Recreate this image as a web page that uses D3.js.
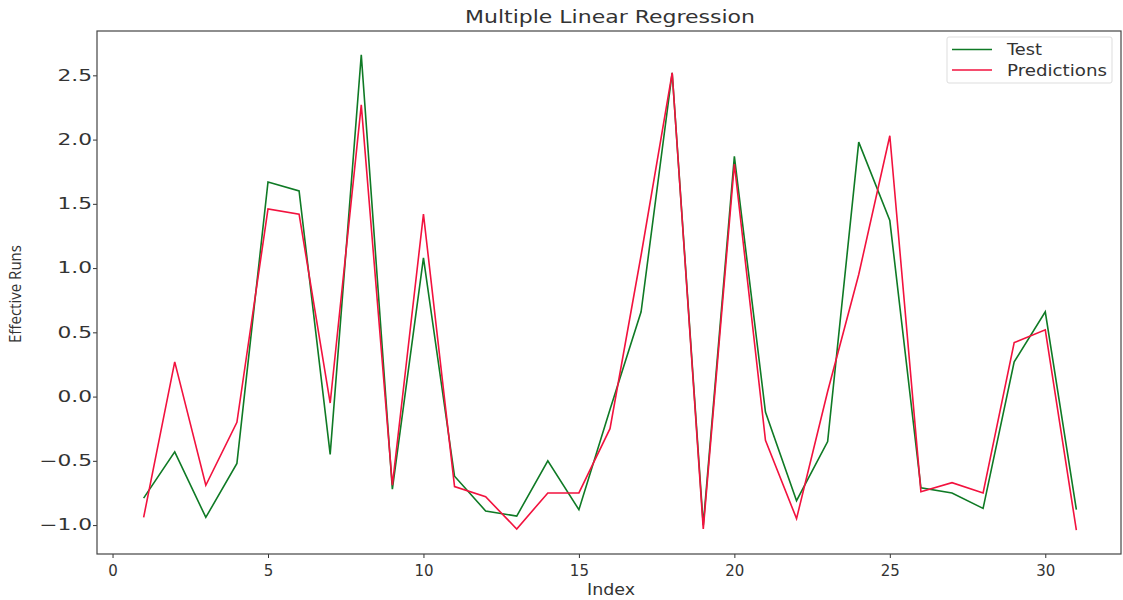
<!DOCTYPE html>
<html>
<head>
<meta charset="utf-8">
<script src="https://cdn.jsdelivr.net/npm/d3@7"></script>
<style>
  html, body { margin: 0; padding: 0; background: #fff; }
  svg { display: block; }
  text { font-family: "DejaVu Sans", sans-serif; fill: #333; }
</style>
</head>
<body>
<svg id="chart" width="1123" height="600"></svg>
<script>
const indices = d3.range(1, 32);
const testValues = [-0.79, -0.43, -0.94, -0.52, 1.67, 1.60, -0.45, 2.66, -0.72, 1.08,
  -0.62, -0.89, -0.93, -0.50, -0.88, -0.10, 0.66, 2.52, -1.00, 1.87,
  -0.12, -0.81, -0.35, 1.98, 1.37, -0.71, -0.75, -0.87, 0.27, 0.66, -0.88];
const predValues = [-0.94, 0.27, -0.69, -0.20, 1.46, 1.42, -0.05, 2.27, -0.69, 1.42,
  -0.70, -0.78, -1.03, -0.75, -0.75, -0.25, 1.10, 2.52, -1.03, 1.81,
  -0.34, -0.95, 0.04, 0.95, 2.03, -0.74, -0.67, -0.75, 0.42, 0.52, -1.04];
const xTicks = [0, 5, 10, 15, 20, 25, 30];
const yTicks = [-1.0, -0.5, 0.0, 0.5, 1.0, 1.5, 2.0, 2.5];
const seriesNames = ["Test", "Predictions"];
const seriesColors = ["#0f7a25", "#f2123e"];

(function () {
const svg = d3.select("#chart");
const mLeft = 97, mRight = 1121, mTop = 31, mBottom = 554;

const x = d3.scaleLinear().domain([-0.5, 32.5]).range([mLeft, mRight + 2]);
const y = d3.scaleLinear().domain([-1.225, 2.845]).range([mBottom, mTop]);

const xAxis = d3.axisBottom(x).tickValues(xTicks).tickFormat(d3.format("d")).tickSizeOuter(0).tickSize(4).tickPadding(7);
const yAxis = d3.axisLeft(y).tickValues(yTicks).tickFormat(d => d3.format(".1f")(d).replace("-", "\u2212")).tickSizeOuter(0).tickSize(4).tickPadding(1);

const gx = svg.append("g").attr("transform", `translate(0,${mBottom})`).call(xAxis);
const gy = svg.append("g").attr("transform", `translate(${mLeft},0)`).call(yAxis);
[gx, gy].forEach(g => {
  g.select(".domain").remove();
  g.selectAll(".tick line").attr("stroke", "#333").attr("stroke-width", 1);
  g.selectAll(".tick text").attr("fill", "#333").style("font-size", "15px").style("font-family", "DejaVu Sans");
});
const ys = 1.45;
gy.selectAll(".tick text").attr("x", -5 / ys).attr("transform", `scale(${ys},1)`);

svg.append("rect").attr("x", mLeft).attr("y", mTop).attr("width", mRight - mLeft).attr("height", mBottom - mTop)
  .attr("fill", "none").attr("stroke", "#444").attr("stroke-width", 1.2);

const series = [testValues, predValues];
const line = d3.line().x((d, i) => x(indices[i])).y(d => y(d));
series.forEach((vals, k) => {
  svg.append("path").datum(vals).attr("d", line).attr("fill", "none")
    .attr("stroke", seriesColors[k]).attr("stroke-width", 1.6).attr("stroke-linejoin", "miter");
});

svg.append("text").attr("x", 465).attr("y", 23).attr("textLength", 290).attr("lengthAdjust", "spacingAndGlyphs")
  .style("font-size", "17px").text("Multiple Linear Regression");
svg.append("text").attr("x", 587).attr("y", 595).attr("textLength", 48).attr("lengthAdjust", "spacingAndGlyphs")
  .style("font-size", "15px").text("Index");
svg.append("text").attr("transform", `translate(21,294) rotate(-90)`).attr("x", -49).attr("textLength", 98)
  .attr("lengthAdjust", "spacingAndGlyphs")
  .style("font-family", "'Liberation Sans Narrow', 'Open Sans', sans-serif").style("font-size", "16px")
  .text("Effective Runs");

const lg = svg.append("g");
lg.append("rect").attr("x", 947).attr("y", 37).attr("width", 165).attr("height", 46).attr("rx", 2)
  .attr("fill", "#fff").attr("fill-opacity", 0.8).attr("stroke", "#ddd");
const legendWidths = [35, 100];
seriesNames.forEach((name, k) => {
  const yy = 49.5 + k * 20.5;
  lg.append("line").attr("x1", 952).attr("x2", 992).attr("y1", yy).attr("y2", yy)
    .attr("stroke", seriesColors[k]).attr("stroke-width", 1.6);
  lg.append("text").attr("x", 1007).attr("y", yy + 5.5).attr("textLength", legendWidths[k])
    .attr("lengthAdjust", "spacingAndGlyphs").style("font-size", "15px").attr("fill", "#333").text(name);
});
})();
</script>
</body>
</html>
